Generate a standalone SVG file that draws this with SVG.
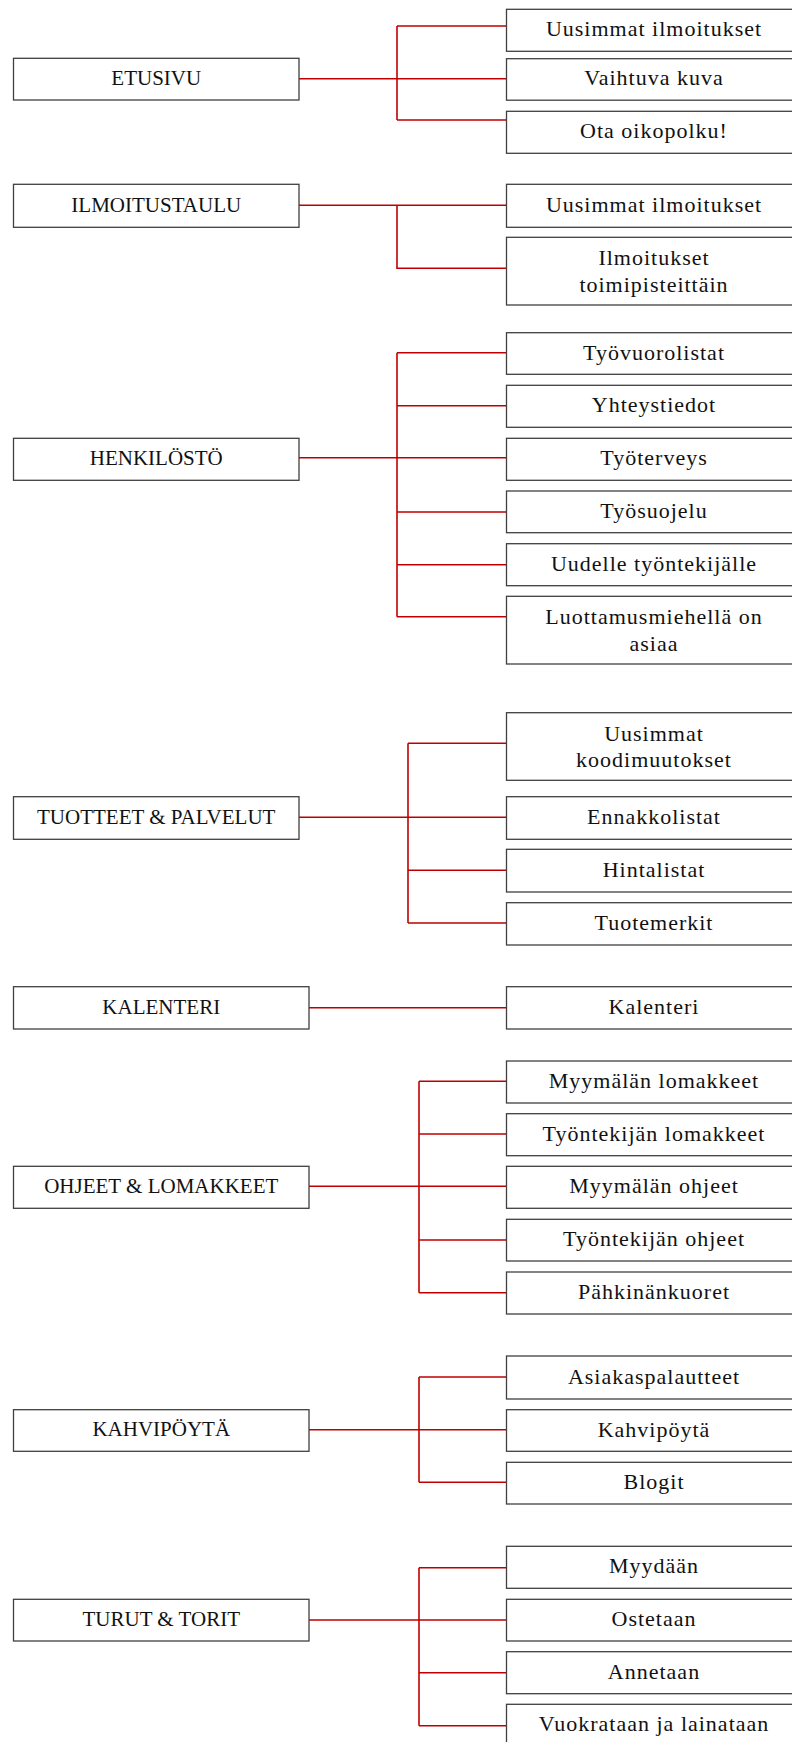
<svg xmlns="http://www.w3.org/2000/svg" width="792" height="1742" viewBox="0 0 792 1742">
<style>
.box{fill:#fff;stroke:#404040;stroke-width:1.3}
.t{font-family:"Liberation Serif","Times New Roman",serif;font-size:21px;fill:#111;text-anchor:middle}
.c{font-size:22px;letter-spacing:1px}
.ln{fill:none;stroke:#c00000;stroke-width:1.6}
</style>
<rect width="792" height="1742" fill="#fff"/>
<g id="connectors">
<path class="ln" d="M299,78.7H506.5M397,26V120M397,26H506.5M397,120H506.5"/>
<path class="ln" d="M299,205.3H506.5M397,205.3V268.3H506.5"/>
<path class="ln" d="M299,457.7H506.5M397,352.7V616.7M397,352.7H506.5M397,405.7H506.5M397,512H506.5M397,564.7H506.5M397,616.7H506.5"/>
<path class="ln" d="M299,817.3H506.5M408,743.3V923M408,743.3H506.5M408,870.3H506.5M408,923H506.5"/>
<path class="ln" d="M309,1007.7H506.5"/>
<path class="ln" d="M309,1186.3H506.5M419,1081.3V1292.7M419,1081.3H506.5M419,1134H506.5M419,1240H506.5M419,1292.7H506.5"/>
<path class="ln" d="M309,1429.7H506.5M419,1377V1482.3M419,1377H506.5M419,1482.3H506.5"/>
<path class="ln" d="M309,1620H506.5M419,1567.7V1725.7M419,1567.7H506.5M419,1672.7H506.5M419,1725.7H506.5"/>
</g>
<g id="etusivu"><rect class="box" x="13.5" y="58.3" width="285.5" height="41.7"/><text class="t" x="156.25" y="84.9">ETUSIVU</text></g>
<g id="etusivu-uusimmat"><rect class="box" x="506.5" y="9.3" width="295" height="42"/><text class="t c" x="654" y="36.3">Uusimmat ilmoitukset</text></g>
<g id="etusivu-vaihtuva"><rect class="box" x="506.5" y="58.7" width="295" height="41.5"/><text class="t c" x="654" y="85.4">Vaihtuva kuva</text></g>
<g id="etusivu-ota"><rect class="box" x="506.5" y="111.3" width="295" height="42"/><text class="t c" x="654" y="138.3">Ota oikopolku!</text></g>

<g id="ilmoitustaulu"><rect class="box" x="13.5" y="184.3" width="285.5" height="43"/><text class="t" x="156.25" y="211.5">ILMOITUSTAULU</text></g>
<g id="ilm-uusimmat"><rect class="box" x="506.5" y="184.3" width="295" height="43"/><text class="t c" x="654" y="211.8">Uusimmat ilmoitukset</text></g>
<g id="ilm-toimipisteittain"><rect class="box" x="506.5" y="237.3" width="295" height="67.7"/><text class="t c" x="654" y="265.4">Ilmoitukset</text><text class="t c" x="654" y="291.9">toimipisteittäin</text></g>

<g id="henkilosto"><rect class="box" x="13.5" y="438.3" width="285.5" height="42"/><text class="t" x="156.25" y="465">HENKILÖSTÖ</text></g>
<g id="hen-tyovuoro"><rect class="box" x="506.5" y="332.7" width="295" height="41.6"/><text class="t c" x="654" y="359.7">Työvuorolistat</text></g>
<g id="hen-yhteys"><rect class="box" x="506.5" y="385.3" width="295" height="42"/><text class="t c" x="654" y="412.3">Yhteystiedot</text></g>
<g id="hen-tyoterveys"><rect class="box" x="506.5" y="438.3" width="295" height="42"/><text class="t c" x="654" y="465.3">Työterveys</text></g>
<g id="hen-tyosuojelu"><rect class="box" x="506.5" y="491" width="295" height="41.7"/><text class="t c" x="654" y="518">Työsuojelu</text></g>
<g id="hen-uudelle"><rect class="box" x="506.5" y="543.7" width="295" height="42"/><text class="t c" x="654" y="570.7">Uudelle työntekijälle</text></g>
<g id="hen-luottamus"><rect class="box" x="506.5" y="596.3" width="295" height="67.7"/><text class="t c" x="654" y="624.4">Luottamusmiehellä on</text><text class="t c" x="654" y="650.9">asiaa</text></g>

<g id="tuotteet"><rect class="box" x="13.5" y="796.7" width="285.5" height="42.6"/><text class="t" x="156.25" y="823.7">TUOTTEET &amp; PALVELUT</text></g>
<g id="tuo-koodi"><rect class="box" x="506.5" y="712.7" width="295" height="67.6"/><text class="t c" x="654" y="740.7">Uusimmat</text><text class="t c" x="654" y="767.2">koodimuutokset</text></g>
<g id="tuo-ennakko"><rect class="box" x="506.5" y="796.7" width="295" height="42.6"/><text class="t c" x="654" y="824">Ennakkolistat</text></g>
<g id="tuo-hinta"><rect class="box" x="506.5" y="849.3" width="295" height="42.7"/><text class="t c" x="654" y="876.7">Hintalistat</text></g>
<g id="tuo-merkit"><rect class="box" x="506.5" y="902.7" width="295" height="42.3"/><text class="t c" x="654" y="929.9">Tuotemerkit</text></g>

<g id="kalenteri"><rect class="box" x="13.5" y="986.7" width="295.5" height="42.3"/><text class="t" x="161.25" y="1013.6">KALENTERI</text></g>
<g id="kal-kalenteri"><rect class="box" x="506.5" y="986.7" width="295" height="42.3"/><text class="t c" x="654" y="1013.9">Kalenteri</text></g>

<g id="ohjeet"><rect class="box" x="13.5" y="1166.3" width="295.5" height="42"/><text class="t" x="161.25" y="1193">OHJEET &amp; LOMAKKEET</text></g>
<g id="ohj-myy-lom"><rect class="box" x="506.5" y="1061" width="295" height="42"/><text class="t c" x="654" y="1088">Myymälän lomakkeet</text></g>
<g id="ohj-tyo-lom"><rect class="box" x="506.5" y="1113.7" width="295" height="42"/><text class="t c" x="654" y="1140.7">Työntekijän lomakkeet</text></g>
<g id="ohj-myy-ohj"><rect class="box" x="506.5" y="1166.3" width="295" height="42"/><text class="t c" x="654" y="1193.3">Myymälän ohjeet</text></g>
<g id="ohj-tyo-ohj"><rect class="box" x="506.5" y="1219.3" width="295" height="41.7"/><text class="t c" x="654" y="1246.3">Työntekijän ohjeet</text></g>
<g id="ohj-pahkinan"><rect class="box" x="506.5" y="1272" width="295" height="42"/><text class="t c" x="654" y="1299">Pähkinänkuoret</text></g>

<g id="kahvipoyta"><rect class="box" x="13.5" y="1409.7" width="295.5" height="41.6"/><text class="t" x="161.25" y="1436.2">KAHVIPÖYTÄ</text></g>
<g id="kah-asiakas"><rect class="box" x="506.5" y="1356" width="295" height="43"/><text class="t c" x="654" y="1383.5">Asiakaspalautteet</text></g>
<g id="kah-kahvi"><rect class="box" x="506.5" y="1409.7" width="295" height="41.6"/><text class="t c" x="654" y="1436.5">Kahvipöytä</text></g>
<g id="kah-blogit"><rect class="box" x="506.5" y="1462.3" width="295" height="41.7"/><text class="t c" x="654" y="1489.2">Blogit</text></g>

<g id="turut"><rect class="box" x="13.5" y="1599.3" width="295.5" height="41.7"/><text class="t" x="161.25" y="1625.9">TURUT &amp; TORIT</text></g>
<g id="tur-myydaan"><rect class="box" x="506.5" y="1546.3" width="295" height="42"/><text class="t c" x="654" y="1573.3">Myydään</text></g>
<g id="tur-ostetaan"><rect class="box" x="506.5" y="1599.3" width="295" height="41.7"/><text class="t c" x="654" y="1626.2">Ostetaan</text></g>
<g id="tur-annetaan"><rect class="box" x="506.5" y="1651.7" width="295" height="42"/><text class="t c" x="654" y="1678.7">Annetaan</text></g>
<g id="tur-vuokrataan"><rect class="box" x="506.5" y="1704.3" width="295" height="42"/><text class="t c" x="654" y="1731.3">Vuokrataan ja lainataan</text></g>
</svg>
